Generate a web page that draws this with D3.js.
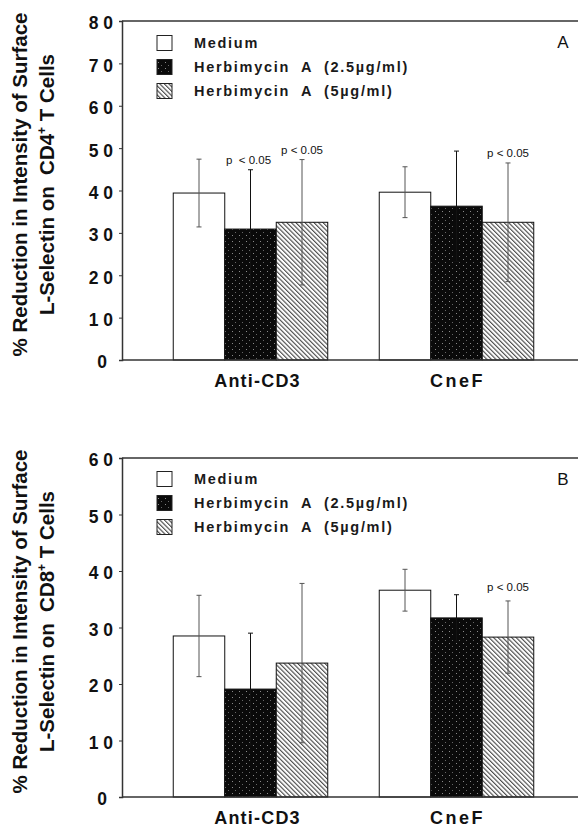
<!DOCTYPE html>
<html>
<head>
<meta charset="utf-8">
<script src="https://cdn.jsdelivr.net/npm/d3@7"></script>
<style>
  body { margin: 0; background: #fff; }
  svg { display: block; font-family: "Liberation Sans", Arial, sans-serif; }
</style>
</head>
<body>
<svg id="chart" width="578" height="828"></svg>
<script>
// categories and series
const categories = ["Anti-CD3", "CneF"];
const treatments = ["Medium", "Herbimycin  A  (2.5\u00b5g/ml)", "Herbimycin  A  (5\u00b5g/ml)"];

// Panel A: CD4+ T cells (mean, +/- error)
const cd4Medium = [39.4, 39.6];
const cd4MediumErr = [8.0, 6.0];
const cd4Herb25 = [30.9, 36.3];
const cd4Herb25Err = [14.0, 13.0];
const cd4Herb5 = [32.5, 32.5];
const cd4Herb5Err = [14.8, 14.0];
const cd4Ticks = [0, 10, 20, 30, 40, 50, 60, 70, 80];

// Panel B: CD8+ T cells
const cd8Medium = [28.5, 36.6];
const cd8MediumErr = [7.2, 3.7];
const cd8Herb25 = [19.1, 31.7];
const cd8Herb25Err = [9.9, 4.1];
const cd8Herb5 = [23.7, 28.3];
const cd8Herb5Err = [14.1, 6.4];
const cd8Ticks = [0, 10, 20, 30, 40, 50, 60];

// significance marks: [category index, treatment index]
const cd4Signif = [[0, 1], [0, 2], [1, 2]];
const cd8Signif = [[1, 2]];

const svg = d3.select("#chart");
const defs = svg.append("defs");

// dotted black fill
const dark = defs.append("pattern")
    .attr("id", "dark").attr("patternUnits", "userSpaceOnUse")
    .attr("width", 7).attr("height", 6);
dark.append("rect").attr("width", 7).attr("height", 6).attr("fill", "#0a0a0a");
dark.append("rect").attr("x", 1).attr("y", 1).attr("width", 1).attr("height", 1).attr("fill", "#8a8a8a");
dark.append("rect").attr("x", 4).attr("y", 4).attr("width", 1).attr("height", 1).attr("fill", "#666");

// diagonal hatch
const hatch = defs.append("pattern")
    .attr("id", "hatch").attr("patternUnits", "userSpaceOnUse")
    .attr("width", 3.2).attr("height", 10)
    .attr("patternTransform", "rotate(-45)");
hatch.append("rect").attr("width", 3.2).attr("height", 10).attr("fill", "#fff");
hatch.append("line").attr("x1", 0.6).attr("x2", 0.6).attr("y1", 0).attr("y2", 10)
    .attr("stroke", "#333").attr("stroke-width", 1);

const fills = ["#fff", "url(#dark)", "url(#hatch)"];

const left = 122, right = 578;
const x0 = d3.scaleBand().domain(categories).range([147.5, 559.5])
    .paddingInner(0.25).paddingOuter(0.125);
const x1 = d3.scaleBand().domain(d3.range(treatments.length)).range([0, x0.bandwidth()]);

function spaced(d) {
    return String(d).split("").join(" ");
}

function drawPanel(opt) {
    const y = d3.scaleLinear().domain([0, opt.max]).range([opt.bottom, opt.top]);
    const g = svg.append("g");

    const series = [
        { means: opt.means[0], errs: opt.errs[0] },
        { means: opt.means[1], errs: opt.errs[1] },
        { means: opt.means[2], errs: opt.errs[2] }
    ];

    // bars
    categories.forEach((c, ci) => {
        series.forEach((s, si) => {
            g.append("rect")
                .attr("x", x0(c) + x1(si))
                .attr("y", y(s.means[ci]))
                .attr("width", x1.bandwidth())
                .attr("height", y(0) - y(s.means[ci]))
                .attr("fill", fills[si])
                .attr("stroke", "#111").attr("stroke-width", 1);
        });
    });

    // error bars
    categories.forEach((c, ci) => {
        series.forEach((s, si) => {
            const cx = x0(c) + x1(si) + x1.bandwidth() / 2;
            const hi = y(s.means[ci] + s.errs[ci]);
            const lo = y(s.means[ci] - s.errs[ci]);
            const col = si === 1 ? "#111" : "#555";
            g.append("line").attr("x1", cx).attr("x2", cx).attr("y1", hi).attr("y2", lo)
                .attr("stroke", col).attr("stroke-width", 1);
            [hi, lo].forEach(v => {
                g.append("line").attr("x1", cx - 2.5).attr("x2", cx + 2.5).attr("y1", v).attr("y2", v)
                    .attr("stroke", col).attr("stroke-width", 1);
            });
        });
    });

    // p labels
    opt.signif.forEach(([ci, si], k) => {
        const s = series[si];
        const cx = x0(categories[ci]) + x1(si) + x1.bandwidth() / 2;
        const top = y(s.means[ci] + s.errs[ci]);
        g.append("text")
            .attr("x", cx + (opt.pdx[k] || 0))
            .attr("y", top - (opt.pdy[k] || 6))
            .attr("text-anchor", "middle")
            .attr("font-size", 11.5)
            .attr("fill", "#111")
            .style("white-space", "pre")
            .text(opt.pText[k]);
    });

    // axis lines
    g.append("line").attr("x1", left).attr("x2", right).attr("y1", opt.top).attr("y2", opt.top)
        .attr("stroke", "#333").attr("stroke-width", 1.5);
    g.append("line").attr("x1", left).attr("x2", right).attr("y1", opt.bottom).attr("y2", opt.bottom)
        .attr("stroke", "#333").attr("stroke-width", 1.5);

    const yAxis = g.append("g")
        .attr("transform", `translate(${left},0)`)
        .call(d3.axisLeft(y).tickValues(opt.ticks).tickSize(3).tickPadding(6)
            .tickFormat(d => d === 0 ? "0" : spaced(d)));
    yAxis.select(".domain").attr("stroke", "#333").attr("stroke-width", 1.5);
    yAxis.selectAll(".tick line").attr("stroke", "#333");
    yAxis.selectAll("text")
        .attr("font-family", "Liberation Sans, Arial, sans-serif")
        .attr("font-size", 17.5).attr("font-weight", "bold").attr("fill", "#111")
        .attr("dy", "0.45em");
    yAxis.selectAll(".tick").filter(d => d === 0).select("text").attr("dx", -6);

    // category labels
    const xAxis = g.append("g")
        .attr("transform", `translate(0,${opt.bottom})`)
        .call(d3.axisBottom(x0).tickSize(0).tickPadding(14));
    xAxis.select(".domain").remove();
    xAxis.selectAll("text")
        .attr("font-family", "Liberation Sans, Arial, sans-serif")
        .attr("font-size", 18).attr("font-weight", "bold").attr("fill", "#111")
        .attr("letter-spacing", d => d === "CneF" ? 2.5 : 1.2)
        .attr("dx", d => d === "CneF" ? 1 : 7);

    // legend
    const leg = g.append("g").attr("transform", `translate(157,${opt.legendTop})`);
    treatments.forEach((t, i) => {
        const row = leg.append("g").attr("transform", `translate(0,${i * 24})`);
        row.append("rect").attr("x", 0).attr("y", -7.5).attr("width", 15).attr("height", 15)
            .attr("fill", fills[i]).attr("stroke", "#222").attr("stroke-width", 1);
        row.append("text").attr("x", 37).attr("y", 0).attr("dy", "0.35em")
            .attr("font-size", 14.5).attr("letter-spacing", 1.7).attr("fill", "#1a1a1a")
            .attr("font-weight", "bold")
            .style("white-space", "pre")
            .text(t);
    });

    // panel letter
    g.append("text").attr("x", 563).attr("y", opt.top + 21).attr("dy", "0.35em")
        .attr("text-anchor", "middle").attr("font-size", 17).attr("fill", "#111")
        .text(opt.letter);

    // y title
    const cy = (opt.top + opt.bottom) / 2 + opt.titleShift;
    const title = g.append("text")
        .attr("transform", `translate(0,${cy}) rotate(-90)`)
        .attr("text-anchor", "middle")
        .attr("font-size", 20.5).attr("font-weight", "bold").attr("fill", "#111")
        .style("white-space", "pre");
    title.append("tspan").attr("x", 0).attr("y", 27).text("% Reduction in Intensity of Surface");
    const l2 = title.append("tspan").attr("x", 0).attr("y", 54);
    l2.append("tspan").text("L-Selectin on  " + opt.cell);
    l2.append("tspan").attr("dy", -8).attr("font-size", 12).text("+");
    l2.append("tspan").attr("dy", 8).text(" T Cells");
}

drawPanel({
    top: 21, bottom: 360, max: 80, ticks: cd4Ticks,
    means: [cd4Medium, cd4Herb25, cd4Herb5],
    errs: [cd4MediumErr, cd4Herb25Err, cd4Herb5Err],
    signif: cd4Signif, pText: ["p  < 0.05", "p < 0.05", "p < 0.05"],
    pdx: [-2, 0, 0], pdy: [6, 6, 6],
    legendTop: 43, letter: "A", cell: "CD4", titleShift: -6
});

drawPanel({
    top: 458, bottom: 797, max: 60, ticks: cd8Ticks,
    means: [cd8Medium, cd8Herb25, cd8Herb5],
    errs: [cd8MediumErr, cd8Herb25Err, cd8Herb5Err],
    signif: cd8Signif, pText: ["p < 0.05"],
    pdx: [0], pdy: [10],
    legendTop: 479, letter: "B", cell: "CD8", titleShift: -6
});
</script>
</body>
</html>
